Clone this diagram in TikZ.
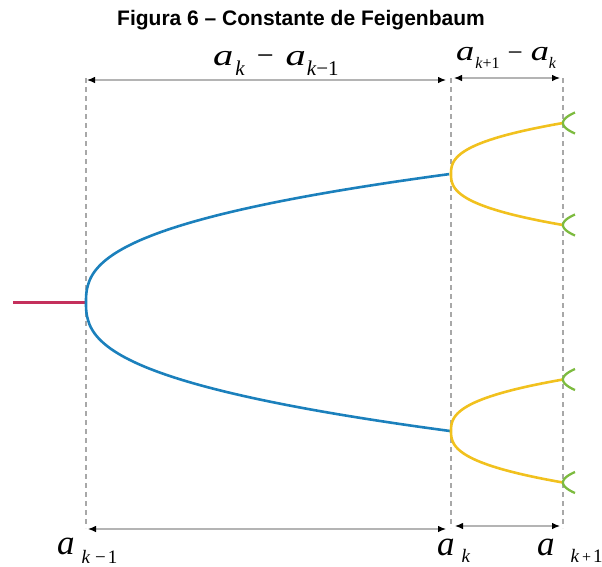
\documentclass[tikz,border=0pt]{standalone}
\usepackage{fontspec}
\setmainfont{Liberation Serif}
\newfontfamily\ttlfont{Liberation Sans}
\usepackage{graphicx}
\usetikzlibrary{arrows.meta}
\definecolor{cred}{HTML}{C4305C}
\definecolor{cblue}{HTML}{1B80BC}
\definecolor{cyel}{HTML}{F1C11E}
\definecolor{cgreen}{HTML}{7DBB3F}
\definecolor{cdash}{HTML}{A8A8A8}
\definecolor{cdim}{HTML}{B4B4B4}
\newcommand\myA[2]{\scalebox{#2}[1]{\fontsize{#1}{#1}\selectfont\itshape a}}
\newcommand\mySub[3]{\raisebox{-#2}{\fontsize{#1}{#1}\selectfont #3}}
\tikzset{
  guide/.style={draw=cdash, line width=1.3pt, dash pattern=on 5pt off 4pt},
  dimline/.style={draw=cdim, line width=1.1pt,
    arrows={Latex[length=8pt,width=6.5pt,color=black]-Latex[length=8pt,width=6.5pt,color=black]}},
  curve/.style={line width=2.6pt},
  lbl/.style={inner sep=0pt, anchor=base west}
}
\begin{document}
\begin{tikzpicture}[x=1pt,y=-1pt]
\useasboundingbox (0,0) rectangle (602,566);
% title
\node[inner sep=0pt, anchor=base] (title) at (301,25) {\ttlfont\bfseries\fontsize{21}{21}\selectfont Figura 6 – Constante de Feigenbaum};
% guide lines
\coordinate (g1t) at (86,78);  \coordinate (g1b) at (86,528);
\coordinate (g2t) at (451,78); \coordinate (g2b) at (451,528);
\coordinate (g3t) at (563,78); \coordinate (g3b) at (563,528);
\draw[guide] (g1t) -- (g1b);
\draw[guide] (g2t) -- (g2b);
\draw[guide] (g3t) -- (g3b);
% dimension arrows
\coordinate (d1a) at (87,80);  \coordinate (d1b) at (446,80);
\coordinate (d2a) at (454,78); \coordinate (d2b) at (560,78);
\coordinate (d3a) at (88,529); \coordinate (d3b) at (446,529);
\coordinate (d4a) at (455,526); \coordinate (d4b) at (560,526);
\draw[dimline] (d1a) -- (d1b);
\draw[dimline] (d2a) -- (d2b);
\draw[dimline] (d3a) -- (d3b);
\draw[dimline] (d4a) -- (d4b);
% curves
\coordinate (r0) at (13,302.5);
\coordinate (v1) at (86,302.5);
\draw[curve, cred] (r0) -- (v1);
\draw[curve, cblue] plot[domain=-1:1, samples=120, variable=\t, smooth] ({86+364*abs(\t)^2.63},{302.5-128.5*\t});
\draw[curve, cyel] plot[domain=-1:1, samples=80, variable=\t, smooth] ({451+112*abs(\t)^2.63},{174-51*\t});
\draw[curve, cyel] plot[domain=-1:1, samples=80, variable=\t, smooth] ({451+112*abs(\t)^2.63},{431-51.5*\t});
\foreach \yc in {123,225,379.5,482.5}{
  \draw[line width=2.3pt, cgreen] plot[domain=-1:1, samples=30, variable=\t, smooth] ({563+12*\t*\t},{\yc-10.5*\t});
}
% labels
\node[lbl] (top1) at (213,65) {\myA{30}{1.35}\kern2pt\mySub{21}{10pt}{\itshape k}\kern12pt{\fontsize{30}{30}\selectfont −}\kern12pt\myA{30}{1.35}\kern1pt\mySub{21}{10pt}{{\itshape k}−1}};
\node[lbl] (top2) at (456,60) {\myA{28}{1.3}\kern1pt\mySub{16}{8pt}{{\itshape k}+1}\kern8pt\raisebox{-1pt}{\fontsize{27}{27}\selectfont −}\kern8pt\myA{28}{1.3}\kern0pt\mySub{16}{8pt}{\itshape k}};
\node[lbl] (bot1) at (57,554) {\myA{35}{1.0}\kern7pt\mySub{19}{9pt}{{\itshape k}\kern5pt−\kern2pt1}};
\node[lbl] (bot2) at (437,555) {\myA{35}{1.0}\kern7pt\mySub{19}{7pt}{\itshape k}};
\node[lbl] (bot3) at (537,555) {\myA{35}{1.0}\kern16pt\mySub{19}{7pt}{{\itshape k}\kern3pt{\fontsize{16}{16}\selectfont +}\kern2pt1}};
\end{tikzpicture}
\end{document}
